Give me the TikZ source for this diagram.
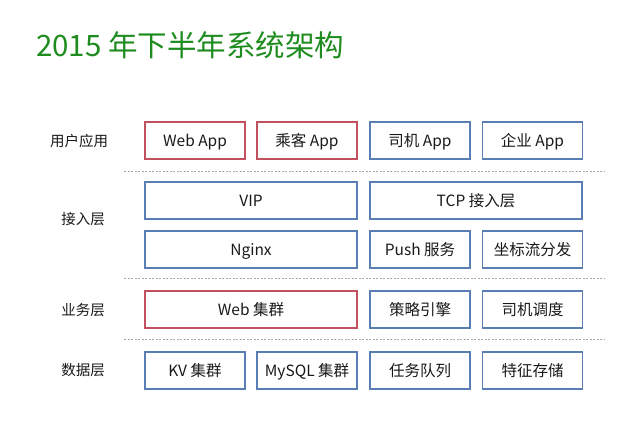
\documentclass[tikz,border=0pt]{standalone}
\usepackage{fontspec}
\setmainfont{Noto Sans CJK SC}
\definecolor{titlegreen}{RGB}{30,140,30}
\definecolor{boxred}{RGB}{195,80,95}
\definecolor{boxblue}{RGB}{90,125,180}
\definecolor{txt}{RGB}{25,25,25}
\definecolor{sep}{RGB}{170,170,170}
\begin{document}
\begin{tikzpicture}[x=1pt,y=-1pt,
  bx/.style={draw=boxblue,line width=1.4pt,text=txt,font=\fontsize{15.5}{18}\selectfont,inner sep=0pt,text height=11pt,text depth=0pt},
  rbx/.style={bx,draw=boxred},
  lbl/.style={text=txt,font=\fontsize{14.5}{17}\selectfont,inner sep=0pt,text height=10.5pt,text depth=0pt},
  sepline/.style={draw=sep,line width=0.6pt,dash pattern=on 2pt off 1.5pt}]
\useasboundingbox (0,0) rectangle (640,429);
\node[anchor=base west,text=titlegreen,font=\fontsize{29.5}{33}\selectfont,inner sep=0pt] (title) at (36,56) {2015 年下半年系统架构};
% row 1
\node[rbx,minimum width=100pt,minimum height=37pt] (webapp) at (195,140.5) {Web App};
\node[rbx,minimum width=100pt,minimum height=37pt] (pass) at (307,140.5) {乘客 App};
\node[bx,minimum width=100pt,minimum height=37pt] (drv) at (420,140.5) {司机 App};
\node[bx,minimum width=100pt,minimum height=37pt] (ent) at (532.5,140.5) {企业 App};
\node[lbl] (l1) at (79,141.5) {用户应用};
\coordinate (s1a) at (124,171); \coordinate (s1b) at (604,171);
\draw[sepline] (s1a) -- (s1b);
% row 2
\node[bx,minimum width=212pt,minimum height=37pt] (vip) at (251,200.5) {VIP};
\node[bx,minimum width=212pt,minimum height=37pt] (tcp) at (476,200.5) {TCP 接入层};
\node[bx,minimum width=212pt,minimum height=37pt] (nginx) at (251,249.5) {Nginx};
\node[bx,minimum width=100pt,minimum height=37pt] (push) at (420,249.5) {Push 服务};
\node[bx,minimum width=100pt,minimum height=37pt] (coord) at (532.5,249.5) {坐标流分发};
\node[lbl] (l2) at (83,219.5) {接入层};
\coordinate (s2a) at (124,278.5); \coordinate (s2b) at (604,278.5);
\draw[sepline] (s2a) -- (s2b);
% row 3
\node[rbx,minimum width=212pt,minimum height=37pt] (webc) at (251,309.5) {Web 集群};
\node[bx,minimum width=100pt,minimum height=37pt] (strat) at (420,309.5) {策略引擎};
\node[bx,minimum width=100pt,minimum height=37pt] (disp) at (532.5,309.5) {司机调度};
\node[lbl] (l3) at (83,310) {业务层};
\coordinate (s3a) at (124,339.5); \coordinate (s3b) at (604,339.5);
\draw[sepline] (s3a) -- (s3b);
% row 4
\node[bx,minimum width=100pt,minimum height=37pt] (kv) at (195,370.5) {KV 集群};
\node[bx,minimum width=100pt,minimum height=37pt] (mysql) at (307,370.5) {MySQL 集群};
\node[bx,minimum width=100pt,minimum height=37pt] (task) at (420,370.5) {任务队列};
\node[bx,minimum width=100pt,minimum height=37pt] (feat) at (532.5,370.5) {特征存储};
\node[lbl] (l4) at (83,370.5) {数据层};
\end{tikzpicture}
\end{document}
